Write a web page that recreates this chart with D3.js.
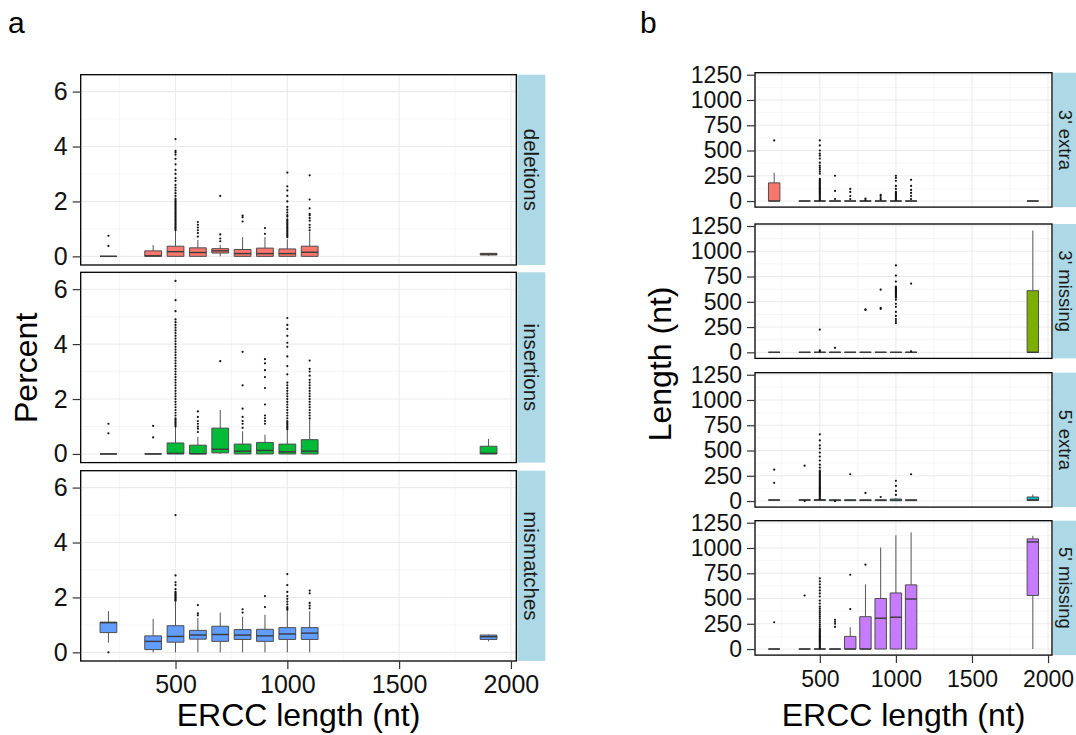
<!DOCTYPE html>
<html>
<head>
<meta charset="utf-8">
<script src="https://cdn.jsdelivr.net/npm/d3@7"></script>
<style>
  body { margin: 0; background: #fff; }
  svg { display: block; font-family: "Liberation Sans", Arial, sans-serif; }
</style>
</head>
<body>
<div id="chart"></div>
<script>
// ERCC lengths (x positions of the boxes)
const lengthsNt = [200, 400, 500, 600, 700, 800, 900, 1000, 1100, 1900];
const xTicks = [500, 1000, 1500, 2000];
const xMinor = [250, 750, 1250, 1750];

// panel a: [lower whisker, q1, median, q3, upper whisker] per length
const errorTypes = ['deletions', 'insertions', 'mismatches'];
const deletionsBoxes = [
  [0, 0, 0, 0, 0], [0, 0, 0.02, 0.2, 0.41], [0, 0, 0.17, 0.37, 0.92], [0, 0, 0.14, 0.31, 0.6],
  [0, 0.12, 0.2, 0.28, 0.42], [0, 0, 0.1, 0.25, 0.7], [0, 0, 0.1, 0.3, 0.7], [0, 0, 0.1, 0.27, 0.62],
  [0, 0, 0.15, 0.37, 0.9], [0.02, 0.05, 0.08, 0.11, 0.12]
];
const deletionsOutliers = [
  [0.38, 0.75], [],
  [0.95, 1.0, 1.05, 1.1, 1.15, 1.2, 1.25, 1.3, 1.35, 1.4, 1.45, 1.5, 1.55, 1.6, 1.65, 1.7, 1.75, 1.8, 1.85, 1.9,
   1.95, 2.0, 2.05, 2.1, 2.2, 2.3, 2.4, 2.5, 2.6, 2.75, 2.85, 3.0, 3.15, 3.35, 3.55, 3.7, 3.78, 3.84, 4.27],
  [0.72, 0.85, 0.95, 1.05, 1.15, 1.25], [0.55, 0.65, 0.8, 2.2], [1.27, 1.42, 1.48], [0.82, 1.03],
  [0.7, 0.75, 0.8, 0.85, 0.9, 0.95, 1.0, 1.05, 1.1, 1.15, 1.2, 1.25, 1.3, 1.35, 1.45, 1.5, 1.6, 1.7, 1.8, 2.0,
   2.2, 2.4, 2.55, 3.05],
  [0.95, 1.05, 1.15, 1.3, 1.4, 1.5, 1.55, 1.75, 2.07, 2.95], []
];
const insertionsBoxes = [
  [0, 0, 0, 0, 0], [0, 0, 0, 0, 0], [0, 0, 0.02, 0.4, 1.0], [0, 0, 0.01, 0.32, 0.62],
  [0, 0.04, 0.17, 0.94, 1.6], [0, 0, 0.1, 0.36, 0.83], [0, 0, 0.13, 0.42, 0.7], [0, 0, 0.08, 0.36, 0.87],
  [0, 0, 0.1, 0.52, 1.28], [0, 0, 0.02, 0.28, 0.55]
];
const insertionsOutliers = [
  [0.75, 1.1], [0.6, 1.02],
  [1.0, 1.05, 1.1, 1.15, 1.2, 1.25, 1.3, 1.4, 1.5, 1.6, 1.7, 1.8, 1.9, 2.0, 2.1, 2.2, 2.3, 2.4, 2.5, 2.6, 2.7,
   2.8, 2.9, 3.0, 3.1, 3.2, 3.3, 3.4, 3.5, 3.6, 3.7, 3.8, 3.9, 4.0, 4.1, 4.2, 4.3, 4.4, 4.5, 4.6, 4.7, 4.8,
   4.9, 5.2, 5.6, 6.3],
  [0.8, 0.92, 1.0, 1.1, 1.2, 1.35, 1.55], [3.38], [0.95, 1.1, 1.2, 1.35, 1.65, 2.5, 3.72],
  [1.1, 1.2, 1.3, 1.4, 1.8, 2.4, 2.8, 3.05, 3.3, 3.45],
  [0.9, 0.95, 1.0, 1.05, 1.1, 1.15, 1.2, 1.3, 1.4, 1.5, 1.6, 1.7, 1.8, 1.9, 2.0, 2.1, 2.2, 2.3, 2.4, 2.5, 2.6,
   2.9, 3.2, 3.55, 3.9, 4.05, 4.3, 4.55, 4.7, 4.95],
  [1.3, 1.4, 1.5, 1.6, 1.7, 1.8, 1.9, 2.0, 2.1, 2.2, 2.3, 2.4, 2.5, 2.6, 2.7, 2.85, 3.0, 3.1, 3.4], []
];
const mismatchesBoxes = [
  [0.35, 0.72, 1.08, 1.1, 1.5], [0, 0.1, 0.4, 0.6, 1.22], [0, 0.37, 0.58, 0.97, 1.85], [0, 0.48, 0.63, 0.8, 1.25],
  [0, 0.4, 0.65, 0.95, 1.45], [0, 0.47, 0.63, 0.83, 1.3], [0, 0.4, 0.6, 0.84, 1.37], [0, 0.47, 0.67, 0.9, 1.5],
  [0, 0.47, 0.7, 0.9, 1.5], [0.4, 0.47, 0.57, 0.63, 0.65]
];
const mismatchesOutliers = [
  [0], [], [1.88, 1.92, 1.96, 2.0, 2.04, 2.08, 2.12, 2.16, 2.2, 2.3, 2.45, 2.55, 2.8, 5.0],
  [1.35, 1.42, 1.72], [], [1.45, 1.57], [1.65, 2.05],
  [1.55, 1.6, 1.65, 1.75, 1.85, 1.95, 2.05, 2.2, 2.45, 2.85], [1.6, 1.7, 1.8, 2.15, 2.25], []
];
const percentTicks = [0, 2, 4, 6];
const percentMinor = [1, 3, 5];

// panel b: end types, lengths in nt
const endTypes = ["3' extra", "3' missing", "5' extra", "5' missing"];
const extra3Boxes = [
  [0, 0, 0, 180, 280], [0, 0, 0, 0, 0], [0, 0, 0, 0, 5], [0, 0, 0, 0, 0], [0, 0, 0, 0, 0],
  [0, 0, 0, 0, 0], [0, 0, 0, 0, 0], [0, 0, 0, 0, 0], [0, 0, 0, 0, 0], [0, 0, 0, 0, 0]
];
const extra3Outliers = [
  [600], [],
  [10, 20, 30, 40, 50, 60, 70, 80, 90, 100, 110, 120, 130, 140, 150, 160, 170, 180, 190, 200, 210, 220,
   270, 290, 310, 330, 350, 380, 420, 450, 470, 500, 550, 600],
  [20, 100, 250], [20, 50, 90, 120], [10, 25], [15, 30, 50, 60],
  [10, 20, 30, 40, 50, 60, 70, 80, 90, 120, 150, 200, 230, 250], [20, 50, 80, 110, 150, 210], []
];
const missing3Boxes = [
  [0, 0, 0, 0, 0], [0, 0, 0, 0, 0], [0, 0, 0, 0, 0], [0, 0, 0, 0, 0], [0, 0, 0, 0, 0],
  [0, 0, 0, 0, 0], [0, 0, 0, 0, 0], [0, 0, 0, 0, 0], [0, 0, 0, 0, 0], [0, 0, 0, 610, 1205]
];
const missing3Outliers = [
  [], [], [10, 20, 225], [45], [], [420, 425], [430, 440, 620],
  [290, 310, 330, 360, 400, 450, 480, 520, 540, 550, 560, 570, 580, 590, 600, 610, 620, 630, 640, 650,
   700, 760, 860],
  [10, 680], []
];
const extra5Boxes = [
  [5, 8, 10, 12, 15], [5, 8, 10, 12, 15], [0, 5, 10, 14, 18], [0, 4, 8, 12, 15], [0, 4, 8, 12, 15],
  [0, 4, 8, 12, 15], [0, 4, 8, 12, 15], [0, 3, 8, 20, 30], [0, 4, 8, 12, 15], [0, 5, 12, 40, 65]
];
const extra5Outliers = [
  [180, 310], [0, 350],
  [20, 30, 40, 50, 60, 70, 80, 90, 100, 110, 120, 130, 140, 150, 160, 170, 180, 190, 200, 210, 220, 230,
   240, 250, 260, 270, 280, 290, 300, 330, 360, 400, 440, 480, 520, 550, 600, 660],
  [0], [265], [80], [40], [60, 100, 150, 200], [265], []
];
const missing5Boxes = [
  [0, 0, 0, 0, 0], [0, 0, 0, 0, 0], [0, 0, 0, 0, 0], [0, 0, 0, 0, 0], [0, 0, 0, 125, 215],
  [0, 0, 0, 320, 640], [0, 0, 305, 500, 1005], [0, 0, 315, 555, 1125], [0, 0, 495, 635, 1155],
  [0, 530, 1060, 1090, 1120]
];
const missing5Outliers = [
  [265], [530],
  [10, 20, 30, 40, 50, 60, 70, 80, 90, 100, 110, 120, 130, 140, 150, 160, 170, 180, 190, 200, 220, 240,
   260, 280, 300, 320, 340, 360, 380, 400, 420, 450, 480, 520, 550, 580, 610, 640, 670, 700],
  [220, 250, 270, 290], [395, 735], [835], [], [], [], []
];
const lengthTicks = [0, 250, 500, 750, 1000, 1250];
const lengthMinor = [125, 375, 625, 875, 1125];

const svg = d3.select('#chart').append('svg')
  .attr('width', 1076)
  .attr('height', 735);

const fmt = d3.format('d');

function drawPanel(cfg) {
  const x = d3.scaleLinear().domain(cfg.xDomain).range([cfg.left, cfg.right]);
  const bw = x(cfg.boxWidth) - x(0);

  cfg.facets.forEach((f, i) => {
    const top = cfg.tops[i];
    const bottom = top + cfg.height;
    const y = d3.scaleLinear().domain(cfg.yDomain).range([bottom, top]);
    const g = svg.append('g');

    // grid lines
    g.selectAll('.vminor').data(xMinor).join('line')
      .attr('x1', d => x(d)).attr('x2', d => x(d)).attr('y1', top).attr('y2', bottom)
      .attr('stroke', '#f2f2f2').attr('stroke-width', 0.8);
    g.selectAll('.hminor').data(cfg.yMinor).join('line')
      .attr('x1', cfg.left).attr('x2', cfg.right).attr('y1', d => y(d)).attr('y2', d => y(d))
      .attr('stroke', '#f2f2f2').attr('stroke-width', 0.8);
    g.selectAll('.vmajor').data(xTicks).join('line')
      .attr('x1', d => x(d)).attr('x2', d => x(d)).attr('y1', top).attr('y2', bottom)
      .attr('stroke', '#ebebeb').attr('stroke-width', 1.1);
    g.selectAll('.hmajor').data(cfg.yTicks).join('line')
      .attr('x1', cfg.left).attr('x2', cfg.right).attr('y1', d => y(d)).attr('y2', d => y(d))
      .attr('stroke', '#ebebeb').attr('stroke-width', 1.1);

    // whiskers
    const rows = lengthsNt.map((len, k) => ({ len, s: f.boxes[k], out: f.outliers[k] }));
    g.selectAll('.whisker').data(rows).join('path')
      .attr('d', d => `M${x(d.len)},${y(d.s[0])}V${y(d.s[1])}M${x(d.len)},${y(d.s[3])}V${y(d.s[4])}`)
      .attr('stroke', '#555').attr('stroke-width', 1).attr('fill', 'none');

    // boxes (path so that flat boxes still show as a line)
    g.selectAll('.box').data(rows).join('path')
      .attr('d', d => {
        const x0 = x(d.len) - bw / 2, x1 = x(d.len) + bw / 2;
        return `M${x0},${y(d.s[1])}H${x1}V${y(d.s[3])}H${x0}Z`;
      })
      .attr('fill', f.color).attr('stroke', '#4d4d4d').attr('stroke-width', 1);

    g.selectAll('.median').data(rows).join('line')
      .attr('x1', d => x(d.len) - bw / 2).attr('x2', d => x(d.len) + bw / 2)
      .attr('y1', d => y(d.s[2])).attr('y2', d => y(d.s[2]))
      .attr('stroke', '#3a3a3a').attr('stroke-width', 1.4);

    // outliers
    const pts = rows.flatMap(d => d.out.map(v => ({ len: d.len, v })));
    g.selectAll('.pt').data(pts).join('circle')
      .attr('cx', d => x(d.len)).attr('cy', d => y(d.v)).attr('r', 1.1)
      .attr('fill', '#111');

    // panel border
    g.append('rect')
      .attr('x', cfg.left).attr('y', top)
      .attr('width', cfg.right - cfg.left).attr('height', cfg.height)
      .attr('fill', 'none').attr('stroke', '#000').attr('stroke-width', 1.3);

    // y axis
    const ya = g.append('g').attr('transform', `translate(${cfg.left},0)`)
      .call(d3.axisLeft(y).tickValues(cfg.yTicks).tickFormat(fmt).tickSize(8).tickPadding(5));
    ya.select('.domain').remove();
    ya.selectAll('.tick line').attr('stroke', '#333').attr('stroke-width', 1.2);
    ya.selectAll('.tick text').attr('font-size', cfg.tickFont).attr('fill', '#111')
      .attr('font-family', '"Liberation Sans", Arial, sans-serif');

    // facet strip
    g.append('rect')
      .attr('x', cfg.right + 1).attr('y', top)
      .attr('width', cfg.stripWidth).attr('height', cfg.height)
      .attr('fill', '#add8e6');
    g.append('text')
      .attr('transform', `translate(${cfg.right + 1 + cfg.stripWidth / 2},${top + cfg.height / 2}) rotate(90)`)
      .attr('text-anchor', 'middle').attr('dy', '0.35em')
      .attr('font-size', cfg.stripFont).attr('fill', '#1a1a1a')
      .text(f.name);

    // x axis on the last facet
    if (i === cfg.facets.length - 1) {
      const xa = g.append('g').attr('transform', `translate(0,${bottom})`)
        .call(d3.axisBottom(x).tickValues(xTicks).tickFormat(fmt).tickSize(8).tickPadding(cfg.xPad));
      xa.select('.domain').remove();
      xa.selectAll('.tick line').attr('stroke', '#333').attr('stroke-width', 1.2);
      xa.selectAll('.tick text').attr('font-size', cfg.tickFont).attr('fill', '#111')
        .attr('font-family', '"Liberation Sans", Arial, sans-serif');
    }
  });

  const first = cfg.tops[0];
  const last = cfg.tops[cfg.tops.length - 1] + cfg.height;
  svg.append('text')
    .attr('x', (cfg.left + cfg.right) / 2).attr('y', 726)
    .attr('text-anchor', 'middle').attr('font-size', 32).attr('fill', '#000')
    .text('ERCC length (nt)');
  svg.append('text')
    .attr('transform', `translate(${cfg.yTitleX},${(first + last) / 2}) rotate(-90)`)
    .attr('text-anchor', 'middle').attr('font-size', 32).attr('fill', '#000')
    .text(cfg.yTitle);
  svg.append('text')
    .attr('x', cfg.labelX).attr('y', 33)
    .attr('font-size', 30).attr('fill', '#000')
    .text(cfg.label);
}

const paletteA = ['#F8766D', '#00BA38', '#619CFF'];
const paletteB = ['#F8766D', '#7CAE00', '#00BFC4', '#C77CFF'];

drawPanel({
  label: 'a', labelX: 8,
  left: 80.7, right: 516.3, tops: [74.7, 272.3, 470.7], height: 190.3,
  xDomain: [76, 2024], yDomain: [-0.315, 6.615], boxWidth: 75,
  yTicks: percentTicks, yMinor: percentMinor,
  tickFont: 25, stripFont: 20.5, stripWidth: 28, xPad: 6,
  yTitle: 'Percent', yTitleX: 37,
  facets: [
    { name: errorTypes[0], color: paletteA[0], boxes: deletionsBoxes, outliers: deletionsOutliers },
    { name: errorTypes[1], color: paletteA[1], boxes: insertionsBoxes, outliers: insertionsOutliers },
    { name: errorTypes[2], color: paletteA[2], boxes: mismatchesBoxes, outliers: mismatchesOutliers }
  ]
});

drawPanel({
  label: 'b', labelX: 640,
  left: 755, right: 1052, tops: [72.7, 224, 372.7, 520.7], height: 134.4,
  xDomain: [74, 2026], yDomain: [-60, 1270], boxWidth: 75,
  yTicks: lengthTicks, yMinor: lengthMinor,
  tickFont: 23, stripFont: 18.5, stripWidth: 24, xPad: 8,
  yTitle: 'Length (nt)', yTitleX: 671,
  facets: [
    { name: endTypes[0], color: paletteB[0], boxes: extra3Boxes, outliers: extra3Outliers },
    { name: endTypes[1], color: paletteB[1], boxes: missing3Boxes, outliers: missing3Outliers },
    { name: endTypes[2], color: paletteB[2], boxes: extra5Boxes, outliers: extra5Outliers },
    { name: endTypes[3], color: paletteB[3], boxes: missing5Boxes, outliers: missing5Outliers }
  ]
});
</script>
</body>
</html>
